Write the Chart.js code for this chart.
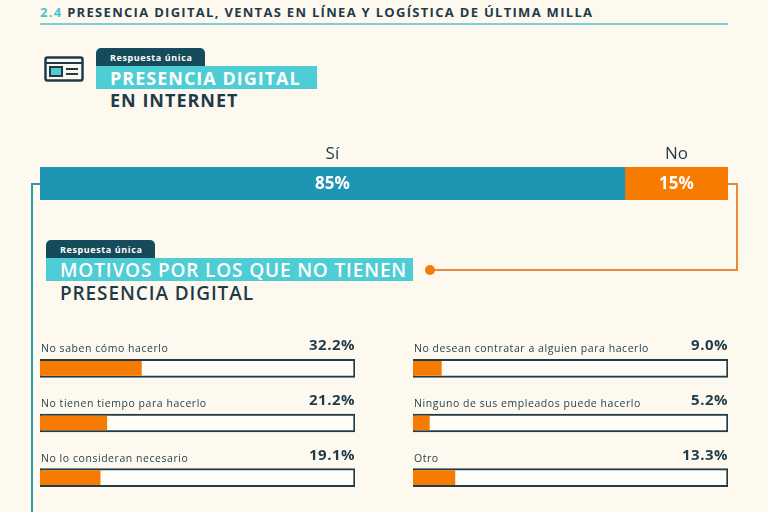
<!DOCTYPE html>
<html>
<head>
<meta charset="utf-8">
<script src="https://cdn.jsdelivr.net/npm/chart.js@4/dist/chart.umd.min.js"></script>
<style>
  body { margin: 0; background: #fdf9ef; font-family: "Open Sans", sans-serif; color: #1f3b4a; }
  #page { position: relative; width: 768px; height: 512px; overflow: hidden; }
  .abs { position: absolute; white-space: nowrap; }
  #head { left: 40px; top: 3px; font-size: 13px; font-weight: 700; letter-spacing: 1.3px; }
  #head span { color: #4bc3c9; }
  #rule { left: 40px; top: 23px; width: 688px; height: 2px; background: #7fd0d4; }
  .tab { background: #164b5b; color: #fff; font-size: 9px; font-weight: 700; padding: 0 0 0 14px; letter-spacing: 0.6px;
         height: 18px; line-height: 19px; border-radius: 5px 5px 0 0; width: 95px; }
  .box { background: #4fcdd5; color: #fff; font-size: 18px; font-weight: 700; height: 23px; line-height: 24px; padding-left: 14px; letter-spacing: 1px; overflow: hidden; }
  .sub { font-size: 18px; font-weight: 700; color: #1f3b4a; letter-spacing: 1px; }
  canvas { position: absolute; }
</style>
</head>
<body>
<div id="page">
  <div id="head" class="abs"><span>2.4</span> PRESENCIA DIGITAL, VENTAS EN LÍNEA Y LOGÍSTICA DE ÚLTIMA MILLA</div>
  <div id="rule" class="abs"></div>

  <svg class="abs" style="left:44px;top:56px" width="40" height="26" viewBox="0 0 40 26">
    <rect x="1.5" y="1.5" width="37" height="23" rx="2" fill="#fdf9ef" stroke="#1f3b4a" stroke-width="2.5"/>
    <line x1="1.5" y1="7" x2="38.5" y2="7" stroke="#1f3b4a" stroke-width="2"/>
    <rect x="6" y="11" width="12" height="9" fill="#4fcdd5" stroke="#1f3b4a" stroke-width="2"/>
    <line x1="22" y1="13" x2="34" y2="13" stroke="#1f3b4a" stroke-width="2"/>
    <line x1="22" y1="18" x2="34" y2="18" stroke="#1f3b4a" stroke-width="2"/>
  </svg>

  <div class="abs tab" style="left:96px;top:48px">Respuesta única</div>
  <div class="abs box" style="left:96px;top:66px;width:207px">PRESENCIA DIGITAL</div>
  <div class="abs sub" style="left:110px;top:88px">EN INTERNET</div>

  <div class="abs tab" style="left:46px;top:240px">Respuesta única</div>
  <div class="abs box" style="left:46px;top:258px;width:353px;font-weight:600;font-size:19px;letter-spacing:0.85px">MOTIVOS POR LOS QUE NO TIENEN</div>
  <div class="abs sub" style="left:60px;top:280px;font-weight:600;font-size:19px;letter-spacing:0.9px">PRESENCIA DIGITAL</div>

  <!-- connectors -->
  <div class="abs" style="left:31px;top:183px;width:9px;height:340px;border-left:2px solid #2a97ad;border-top:2px solid #2a97ad"></div>
  <div class="abs" style="left:430px;top:183px;width:306px;height:86px;border-right:2px solid #e88a3c;border-bottom:2px solid #e88a3c;border-top:none"></div>
  <div class="abs" style="left:728px;top:183px;width:8px;height:0;border-top:2px solid #e88a3c"></div>
  <div class="abs" style="left:425px;top:265px;width:10px;height:10px;border-radius:50%;background:#f47b0a"></div>

  <canvas id="top" style="left:40px;top:140px" width="688" height="62"></canvas>
  <canvas id="left" style="left:40px;top:330px" width="316" height="175"></canvas>
  <canvas id="right" style="left:413px;top:330px" width="316" height="175"></canvas>
</div>
<script>
  // presencia digital en internet
  const presLabels = ['Sí', 'No'];
  const presValues = [85, 15];
  const presColors = ['#1e96b3', '#f77b00'];

  // motivos por los que no tienen presencia digital
  const leftReasons = ['No saben cómo hacerlo', 'No tienen tiempo para hacerlo', 'No lo consideran necesario'];
  const leftValues = [32.2, 21.2, 19.1];
  const rightReasons = ['No desean contratar a alguien para hacerlo', 'Ninguno de sus empleados puede hacerlo', 'Otro'];
  const rightValues = [9.0, 5.2, 13.3];

  const dark = '#1f3b4a';

  // labels on the stacked bar
  const stackLabels = {
    id: 'stackLabels',
    afterDatasetsDraw(chart) {
      const ctx = chart.ctx;
      ctx.save();
      ctx.textAlign = 'center';
      chart.data.datasets.forEach((ds, i) => {
        const bar = chart.getDatasetMeta(i).data[0];
        const cx = (bar.x + bar.base) / 2;
        ctx.fillStyle = '#ffffff';
        ctx.font = '700 17px "Open Sans"';
        ctx.textBaseline = 'middle';
        ctx.fillText(ds.data[0] + '%', cx, bar.y + 1);
        ctx.fillStyle = dark;
        ctx.font = '400 17px "Open Sans"';
        ctx.textBaseline = 'alphabetic';
        ctx.fillText(ds.label, cx, chart.chartArea.top - 8);
      });
      ctx.restore();
    }
  };

  new Chart(document.getElementById('top'), {
    type: 'bar',
    data: {
      labels: [''],
      datasets: presLabels.map((l, i) => ({
        label: l, data: [presValues[i]], backgroundColor: presColors[i],
        categoryPercentage: 1, barPercentage: 1, borderWidth: 0
      }))
    },
    options: {
      indexAxis: 'y', responsive: false, animation: false,
      layout: { padding: { top: 27, bottom: 2 } },
      plugins: { legend: { display: false }, tooltip: { enabled: false } },
      scales: {
        x: { stacked: true, min: 0, max: 100, display: false },
        y: { stacked: true, display: false }
      }
    },
    plugins: [stackLabels]
  });

  // labels above each small bar
  const reasonLabels = {
    id: 'reasonLabels',
    afterDatasetsDraw(chart) {
      const ctx = chart.ctx;
      const meta = chart.getDatasetMeta(0);
      const area = chart.chartArea;
      ctx.save();
      ctx.textBaseline = 'alphabetic';
      meta.data.forEach((bar, i) => {
        const top = bar.y - bar.height / 2 - 2;
        ctx.fillStyle = dark;
        ctx.textAlign = 'left';
        ctx.font = '400 10.5px "Open Sans"';
        ctx.letterSpacing = '0.55px';
        ctx.fillText(chart.data.labels[i], area.left + 1, top - 7);
        ctx.textAlign = 'right';
        ctx.font = '700 15px "Open Sans"';
        ctx.letterSpacing = '0.5px';
        ctx.fillText(chart.data.datasets[0].data[i].toFixed(1) + '%', area.right, top - 9);
      });
      ctx.restore();
    }
  };

  function reasonChart(id, labels, values) {
    new Chart(document.getElementById(id), {
      type: 'bar',
      data: {
        labels: labels,
        datasets: [
          { data: values, backgroundColor: '#f77b00', barThickness: 14, order: 1, borderWidth: 0 },
          { data: labels.map(() => 100), backgroundColor: '#fffdf8', borderColor: '#233c48',
            borderWidth: 2, barThickness: 18, order: 2, borderSkipped: false }
        ]
      },
      options: {
        indexAxis: 'y', responsive: false, animation: false,
        layout: { padding: { top: 11, left: 0, right: 1 } },
        plugins: { legend: { display: false }, tooltip: { enabled: false } },
        datasets: { bar: { grouped: false } },
        scales: {
          x: { min: 0, max: 100, display: false },
          y: { display: false }
        }
      },
      plugins: [reasonLabels]
    });
  }

  reasonChart('left', leftReasons, leftValues);
  reasonChart('right', rightReasons, rightValues);
</script>
</body>
</html>
